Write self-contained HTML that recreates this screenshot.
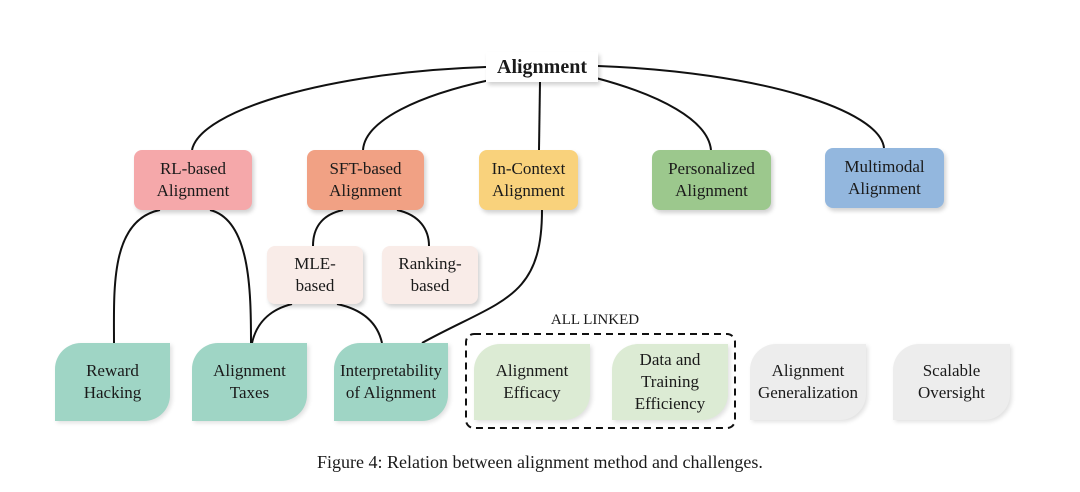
<!DOCTYPE html>
<html><head><meta charset="utf-8"><style>
body{margin:0;width:1080px;height:492px;background:#fff;position:relative;overflow:hidden;font-family:"Liberation Serif",serif;color:#1a1a1a}
.b{position:absolute;display:flex;align-items:center;justify-content:center;text-align:center;font-size:17px;line-height:22px;box-shadow:2px 3px 4px rgba(0,0,0,0.18)}
.m{border-radius:8px}
.l{border-radius:26px 0 26px 0;box-shadow:2px 2px 4px rgba(0,0,0,0.12)}
svg{position:absolute;left:0;top:0}
</style></head><body>
<svg width="1080" height="492" fill="none" stroke="#111" stroke-width="2">
<path d="M486,67 C330,72 200,110 192,150"/>
<path d="M490,80 C420,95 365,120 363,150"/>
<path d="M540,82 L539,150"/>
<path d="M596,78 C660,95 708,120 711,150"/>
<path d="M598,66 C760,72 880,110 884,148"/>
<path d="M160,210 C110,220 114,290 114,343"/>
<path d="M210,210 C250,220 251,290 251,343"/>
<path d="M343,210 C320,215 313,230 313,246"/>
<path d="M397,210 C420,215 429,230 429,246"/>
<path d="M292,304 C268,310 256,325 252,343"/>
<path d="M337,304 C365,310 378,325 382,343"/>
<path d="M542,210 C542,300 500,300 422,343"/>
<rect x="466" y="334" width="269" height="94" rx="8" stroke-width="2" stroke-dasharray="7,5"/>
</svg>
<div class="b" style="left:486px;top:52px;width:112px;height:30px;background:#fff;font-weight:bold;font-size:20px">Alignment</div>
<div class="b m" style="left:134px;top:150px;width:118px;height:60px;background:#f5a8aa">RL-based<br>Alignment</div>
<div class="b m" style="left:307px;top:150px;width:117px;height:60px;background:#f1a184">SFT-based<br>Alignment</div>
<div class="b m" style="left:479px;top:150px;width:99px;height:60px;background:#f9d27c">In-Context<br>Alignment</div>
<div class="b m" style="left:652px;top:150px;width:119px;height:60px;background:#9cc88d">Personalized<br>Alignment</div>
<div class="b m" style="left:825px;top:148px;width:119px;height:60px;background:#93b7de">Multimodal<br>Alignment</div>
<div class="b m" style="left:267px;top:246px;width:96px;height:58px;background:#f9ece8">MLE-<br>based</div>
<div class="b m" style="left:382px;top:246px;width:96px;height:58px;background:#f9ece8">Ranking-<br>based</div>
<div class="b l" style="left:55px;top:343px;width:115px;height:78px;background:#9fd5c5">Reward<br>Hacking</div>
<div class="b l" style="left:192px;top:343px;width:115px;height:78px;background:#9fd5c5">Alignment<br>Taxes</div>
<div class="b l" style="left:334px;top:343px;width:114px;height:78px;background:#9fd5c5">Interpretability<br>of Alignment</div>
<div class="b l" style="left:474px;top:344px;width:116px;height:76px;background:#dcebd4">Alignment<br>Efficacy</div>
<div class="b l" style="left:612px;top:344px;width:116px;height:76px;background:#dcebd4">Data and<br>Training<br>Efficiency</div>
<div class="b l" style="left:750px;top:344px;width:116px;height:76px;background:#ededed">Alignment<br>Generalization</div>
<div class="b l" style="left:893px;top:344px;width:117px;height:76px;background:#ededed">Scalable<br>Oversight</div>
<div style="position:absolute;left:535px;top:312px;width:120px;text-align:center;font-size:15px">ALL LINKED</div>
<div style="position:absolute;left:0;width:1080px;top:452px;text-align:center;font-size:18px">Figure 4: Relation between alignment method and challenges.</div>
</body></html>
